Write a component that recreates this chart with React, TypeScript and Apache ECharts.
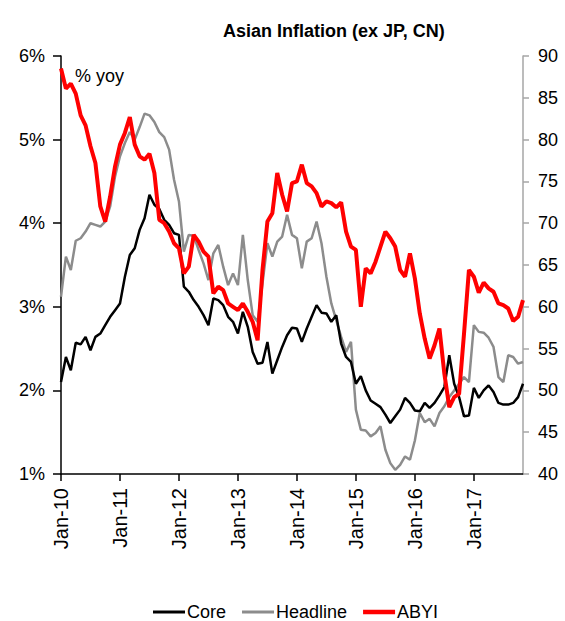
import React, { useEffect, useRef } from "react";
import * as echarts from "echarts";

const MONTHS = ["Jan", "Feb", "Mar", "Apr", "May", "Jun", "Jul", "Aug", "Sep", "Oct", "Nov", "Dec"];
const YEARS = ["10", "11", "12", "13", "14", "15", "16", "17"];
const N_POINTS = 95;

const CORE = [
  2.10, 2.40, 2.24, 2.57, 2.55, 2.64, 2.48, 2.64, 2.68, 2.78, 2.88, 2.96,
  3.04, 3.36, 3.62, 3.70, 3.92, 4.06, 4.34, 4.22, 4.17, 4.04, 3.98, 3.88,
  3.86, 3.24, 3.18, 3.08, 3.00, 2.90, 2.78, 3.10, 3.08, 3.02, 2.88, 2.82,
  2.68, 2.94, 2.76, 2.46, 2.32, 2.33, 2.58, 2.20, 2.36, 2.52, 2.66, 2.75,
  2.74, 2.58, 2.74, 2.88, 3.02, 2.93, 2.92, 2.82, 2.90, 2.56, 2.40, 2.34,
  2.08, 2.17, 2.00, 1.88, 1.84, 1.80, 1.71, 1.61, 1.69, 1.77, 1.91, 1.85,
  1.76, 1.75, 1.85, 1.79, 1.85, 1.94, 2.04, 2.42, 2.08, 1.92, 1.69, 1.70,
  2.03, 1.91, 2.00, 2.06, 1.98, 1.85, 1.83, 1.83, 1.85, 1.92, 2.08,
];

const HEADLINE = [
  3.12, 3.60, 3.44, 3.79, 3.82, 3.90, 4.00, 3.98, 3.96, 4.02, 4.20, 4.56,
  4.80, 4.96, 5.09, 5.00, 5.15, 5.31, 5.29, 5.21, 5.09, 5.03, 4.88, 4.52,
  4.26, 3.66, 3.86, 3.85, 3.68, 3.52, 3.32, 3.64, 3.74, 3.48, 3.26, 3.40,
  3.26, 3.86, 3.32, 2.90, 2.82, 3.28, 3.76, 3.60, 3.78, 3.84, 4.10, 3.86,
  3.82, 3.46, 3.78, 3.82, 4.02, 3.76, 3.36, 3.04, 2.84, 2.64, 2.46, 2.58,
  1.77, 1.53, 1.52, 1.45, 1.49, 1.57, 1.29, 1.13, 1.05, 1.11, 1.21, 1.17,
  1.40, 1.73, 1.62, 1.66, 1.57, 1.73, 1.81, 1.92, 2.00, 2.08, 2.16, 2.10,
  2.78, 2.70, 2.69, 2.63, 2.52, 2.16, 2.10, 2.42, 2.40, 2.32, 2.34,
];

const ABYI = [
  88.5, 86.1, 86.7, 85.5, 82.9, 81.7, 79.2, 77.2, 72.0, 70.2, 73.2, 76.8,
  79.4, 80.8, 82.7, 79.4, 78.0, 77.6, 78.3, 76.0, 70.4, 70.0, 69.0, 67.6,
  67.0, 64.0, 64.8, 68.6, 67.8, 66.6, 66.0, 61.6, 62.4, 62.0, 60.4, 60.0,
  59.6, 60.4, 59.4, 58.2, 56.0, 64.4, 70.2, 71.2, 76.0, 73.4, 71.4, 74.8,
  75.0, 77.0, 74.8, 74.4, 73.6, 72.0, 72.6, 72.4, 71.9, 72.5, 69.0, 67.2,
  66.8, 60.0, 64.6, 64.0, 65.4, 67.2, 69.0, 68.2, 67.2, 64.4, 63.6, 66.4,
  63.4, 59.2, 56.2, 53.8, 55.4, 57.4, 52.0, 48.0, 49.2, 49.6, 56.8, 64.4,
  63.6, 61.7, 62.9, 62.2, 61.8, 60.4, 60.2, 59.8, 58.3, 58.8, 60.8,
];

const TITLE = "Asian Inflation (ex JP, CN)";
const UNIT_LABEL = "% yoy";
const SERIES_NAMES = ["Core", "Headline", "ABYI"];

const SANS = "'Liberation Sans', Arial, sans-serif";

function buildCategories(): string[] {
  const out: string[] = [];
  for (const y of YEARS) for (const m of MONTHS) out.push(`${m}-${y}`);
  return out.slice(0, N_POINTS);
}

export default function App() {
  const ref = useRef<HTMLDivElement>(null);
  useEffect(() => {
    if (!ref.current) return;
    const chart = echarts.init(ref.current, undefined, { renderer: "svg" });
    const categories = buildCategories();
    const thin = "path://M0,0h32v3h-32z";
    const thick = "path://M0,0h32v4.5h-32z";
    chart.setOption({
      animation: false,
      backgroundColor: "#ffffff",
      title: {
        text: TITLE,
        left: 218,
        top: 17,
        textStyle: { fontFamily: SANS, fontWeight: "bold", fontSize: 18, color: "#000" },
      },
      graphic: [
        {
          type: "text",
          left: 75,
          top: 67,
          style: { text: UNIT_LABEL, font: `18px ${SANS}`, fill: "#000" },
        },
      ],
      legend: {
        data: [
          { name: SERIES_NAMES[0], icon: thin },
          { name: SERIES_NAMES[1], icon: thin },
          { name: SERIES_NAMES[2], icon: thick },
        ],
        left: 148,
        top: 598,
        itemWidth: 32,
        itemHeight: 14,
        itemGap: 16,
        textStyle: { fontFamily: SANS, fontSize: 18, color: "#000", padding: [0, 0, 0, -3] },
      },
      grid: { left: 61, right: 42, top: 56, bottom: 147 },
      xAxis: {
        type: "category",
        data: categories,
        boundaryGap: false,
        axisLine: { lineStyle: { color: "#000", width: 1.5 } },
        axisTick: { interval: 11, length: 7, lineStyle: { color: "#000", width: 1.5 } },
        axisLabel: {
          interval: 11,
          rotate: 90,
          margin: 14,
          fontSize: 20,
          fontFamily: SANS,
          color: "#000",
        },
        splitLine: { show: false },
      },
      yAxis: [
        {
          type: "value",
          position: "left",
          min: 1,
          max: 6,
          interval: 1,
          axisLine: { show: true, lineStyle: { color: "#000", width: 1.5 } },
          axisTick: { show: true, length: 8, lineStyle: { color: "#000", width: 1.5 } },
          axisLabel: { formatter: "{value}%", margin: 16, fontSize: 18, fontFamily: SANS, color: "#000" },
          splitLine: { show: false },
        },
        {
          type: "value",
          position: "right",
          min: 40,
          max: 90,
          interval: 5,
          axisLine: { show: true, lineStyle: { color: "#a6a6a6", width: 1.5 } },
          axisTick: { show: true, length: 6, lineStyle: { color: "#a6a6a6", width: 1.5 } },
          axisLabel: { margin: 15, fontSize: 18, fontFamily: SANS, color: "#000" },
          splitLine: { show: false },
        },
      ],
      series: [
        {
          name: "Headline",
          type: "line",
          yAxisIndex: 0,
          data: HEADLINE,
          symbol: "none",
          lineStyle: { color: "#8c8c8c", width: 2.5 },
          itemStyle: { color: "#8c8c8c" },
        },
        {
          name: "Core",
          type: "line",
          yAxisIndex: 0,
          data: CORE,
          symbol: "none",
          lineStyle: { color: "#000000", width: 2.5 },
          itemStyle: { color: "#000000" },
        },
        {
          name: "ABYI",
          type: "line",
          yAxisIndex: 1,
          data: ABYI,
          symbol: "none",
          lineStyle: { color: "#ff0000", width: 4 },
          itemStyle: { color: "#ff0000" },
        },
      ],
    });
    return () => chart.dispose();
  }, []);
  return (
    <div
      ref={ref}
      style={{ position: "fixed", left: 0, top: 0, width: 565, height: 621, background: "#fff" }}
    />
  );
}
